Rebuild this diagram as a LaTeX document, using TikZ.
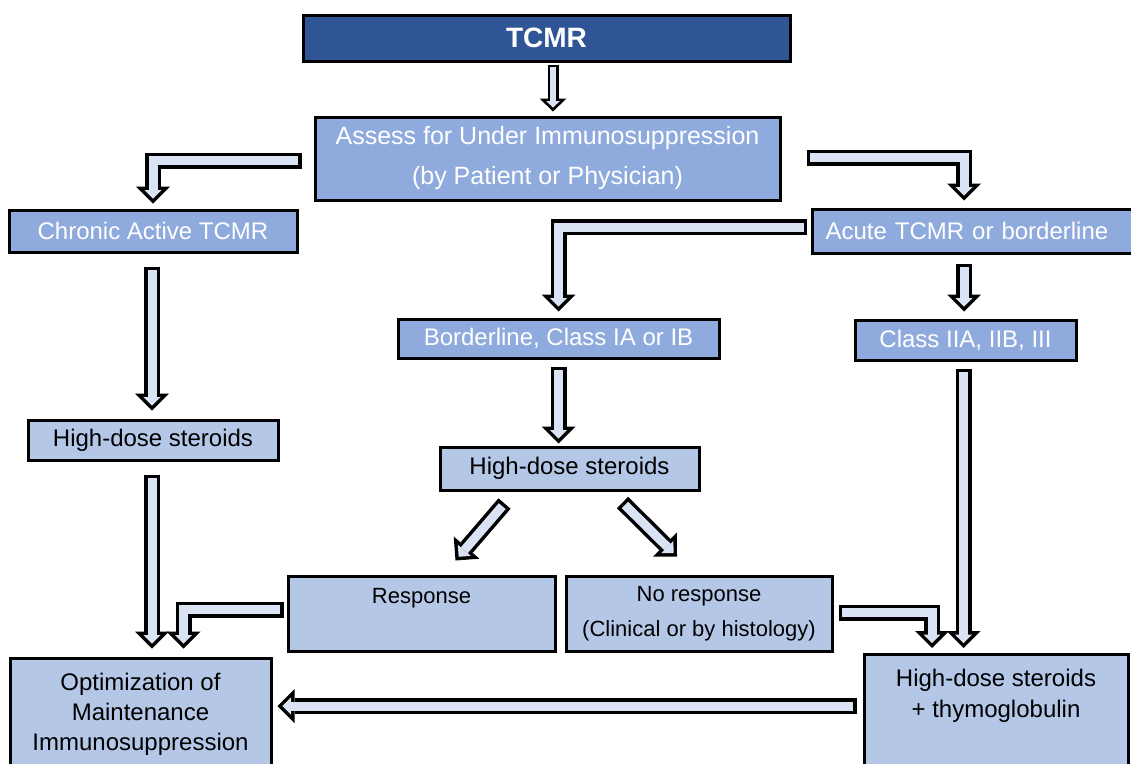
\documentclass[tikz,border=0pt]{standalone}
\usepackage{fontspec}
\setmainfont{Liberation Sans}
\definecolor{tcmrdark}{HTML}{2F5597}
\definecolor{tcmrmid}{HTML}{8FAADC}
\definecolor{tcmrlight}{HTML}{B4C7E7}
\definecolor{arrowfill}{HTML}{DAE3F3}
\usetikzlibrary{arrows.meta,calc}

\begin{document}
\begin{tikzpicture}[x=1pt, y=-1pt,
  box/.style={draw=black, line width=3pt, inner sep=0pt, align=center},
  head/.style={box, fill=tcmrdark, text=white,
               font=\fontsize{28}{32}\selectfont\bfseries},
  cat/.style={box, fill=tcmrmid, text=white, font=\fontsize{24}{40}\selectfont},
  tx/.style={box, fill=tcmrlight, text=black, font=\fontsize{24}{31}\selectfont},
  res/.style={box, fill=tcmrlight, text=black, font=\fontsize{22}{35}\selectfont},
  barrow/.style={draw=black, line width=16pt, line join=miter,
                 -{Triangle[line width=0pt, width=34pt, length=17pt]},
                 postaction={draw=arrowfill, line width=9pt,
                             shorten <=3.5pt, shorten >=4.9pt,
                             -{Triangle[line width=0pt, width=17.2pt, length=8.6pt]}}},
  sbarrow/.style={draw=black, line width=11pt, line join=miter,
                  -{Triangle[line width=0pt, width=27pt, length=13pt]},
                  postaction={draw=arrowfill, line width=5.5pt,
                              shorten <=2.8pt, shorten >=3.9pt,
                              -{Triangle[line width=0pt, width=13.5pt, length=6.5pt]}}}
]
  \useasboundingbox (0,0) rectangle (1131,763);

  \node[head, minimum width=487pt, minimum height=46pt] (tcmr) at (546.5,38) {TCMR};
  \node[cat, minimum width=465pt, minimum height=83pt, font=\fontsize{25}{40}\selectfont]
    (assess) at (547.5,158.5)
    {Assess for Under Immunosuppression\\(by Patient or Physician)};
  \node[cat, minimum width=288pt, minimum height=42pt] (chronic) at (153,231) {Chronic Active TCMR};
  \node[cat, anchor=west, text width=300pt, inner xsep=13pt, align=left,
        minimum height=44pt] (acute) at (811,231) {Acute TCMR or borderline};
  \node[cat, minimum width=321pt, minimum height=39pt] (border) at (558.5,338.5) {Borderline, Class IA or IB};
  \node[cat, minimum width=221pt, minimum height=40pt] (classII) at (965.5,340) {Class IIA, IIB, III};
  \node[tx, minimum width=250pt, minimum height=40pt] (hdleft) at (153,440) {High-dose steroids};
  \node[tx, minimum width=259pt, minimum height=43pt] (hdmid) at (569.5,468.5) {High-dose steroids};
  \node[res, minimum width=267pt, minimum height=75pt] (resp) at (421.5,613.5) {Response\\\mbox{}};
  \node[res, minimum width=266pt, minimum height=75pt] (noresp) at (699,613.5)
    {No response\\(Clinical or by histology)};
  \node[tx, minimum width=261pt, minimum height=138pt, font=\fontsize{24}{30}\selectfont]
    (optim) at (140.5,727) {Optimization of\\Maintenance\\Immunosuppression\\\mbox{}};
  \node[tx, minimum width=264pt, minimum height=140pt] (hdthymo) at (996,724.5)
    {High-dose steroids\\+ thymoglobulin\\\mbox{}\\\mbox{}};

  % top level
  \draw[sbarrow] ($(tcmr.south)+(6.5,2)$) -- ($(assess.north)+(5.5,-4)$);
  \draw[barrow] ($(assess.west)+(-12,2)$) -| ($(chronic.north)+(0,-5)$);
  \draw[barrow] ($(assess.east)+(25,-1)$) -| ($(acute.north west)+(153,-7)$);
  \draw[barrow] ($(acute.west)+(-4,-4)$) -| ($(border.north)+(0,-6)$);
  \draw[barrow] ($(acute.south west)+(153,9)$) -- ($(classII.north)+(-1.5,-7)$);

  % down the columns
  \draw[barrow] ($(chronic.south)+(-1,13)$) -- ($(hdleft.north)+(-1,-8)$);
  \draw[barrow] ($(border.south)+(0,7)$) -- ($(hdmid.north)+(-11,-2)$);
  \draw[barrow] ($(hdleft.south)+(-1,13)$) -- ($(optim.north)+(11.5,-8)$);
  \draw[barrow] ($(hdmid.south)+(-65,12)$) -- ($(resp.north)+(34,-14)$);
  \draw[barrow] ($(hdmid.south)+(53,11)$) -- ($(noresp.north)+(-22,-18)$);

  % outcomes
  \draw[barrow] ($(resp.west)+(-3,-4)$) -| ($(optim.north)+(43,-8)$);
  \draw[barrow] ($(noresp.east)+(5,-1)$) -| ($(hdthymo.north)+(-64,-5)$);
  \draw[barrow] ($(classII.south)+(-2,7)$) -- ($(hdthymo.north)+(-32.5,-5)$);
  \draw[barrow] ($(hdthymo.north west)+(-6,53)$) -- ($(optim.north east)+(5,49.5)$);
\end{tikzpicture}
\end{document}
